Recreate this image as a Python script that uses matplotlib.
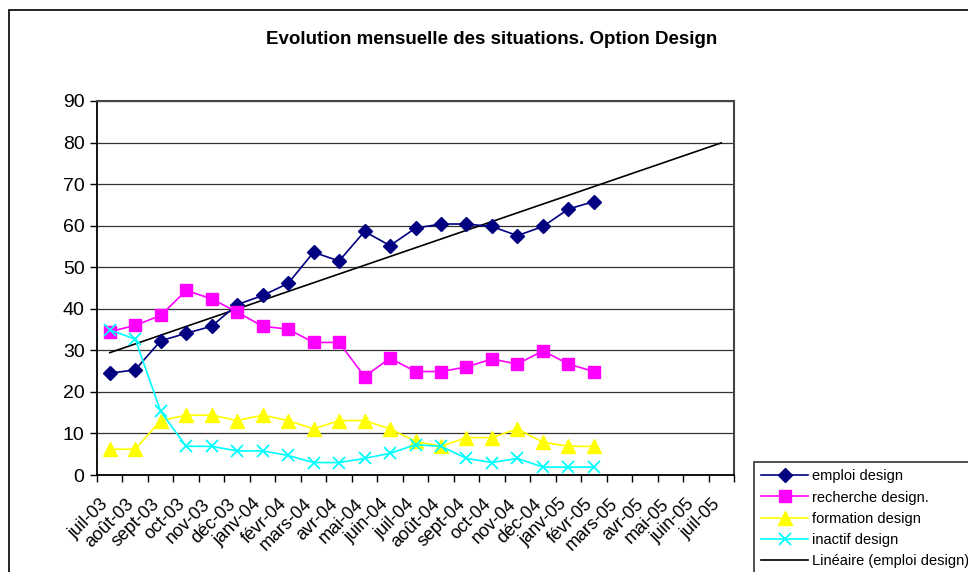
import numpy as np
import matplotlib.pyplot as plt
import matplotlib.transforms as mtransforms
from matplotlib.patches import Rectangle

plt.rcParams['font.family'] = ['Liberation Sans', 'DejaVu Sans']

# -----------------------------
# DONNÉES
# -----------------------------
mois = ["juil-03", "août-03", "sept-03", "oct-03", "nov-03", "déc-03",
        "janv-04", "févr-04", "mars-04", "avr-04", "mai-04", "juin-04",
        "juil-04", "août-04", "sept-04", "oct-04", "nov-04", "déc-04",
        "janv-05", "févr-05", "mars-05", "avr-05", "mai-05", "juin-05",
        "juil-05"]

emploi = [24.5, 25.3, 32.3, 34.1, 35.8, 41.0, 43.2, 46.1, 53.6, 51.5,
          58.6, 55.2, 59.4, 60.4, 60.4, 59.8, 57.6, 59.8, 64.0, 65.8]
recherche = [34.5, 36.0, 38.4, 44.4, 42.4, 39.2, 35.8, 35.1, 31.9, 31.9,
             23.7, 28.1, 24.9, 24.9, 26.0, 27.9, 26.7, 29.9, 26.7, 24.9]
formation = [6.2, 6.2, 13.1, 14.4, 14.4, 13.1, 14.4, 13.1, 11.1, 13.1,
             13.1, 11.1, 8.1, 6.9, 9.0, 9.0, 11.1, 7.9, 6.9, 6.9]
inactif = [34.9, 32.7, 15.3, 6.9, 6.9, 5.8, 5.8, 4.7, 3.0, 3.0,
           4.0, 5.2, 7.3, 6.9, 4.0, 3.0, 4.0, 1.9, 1.9, 1.9]

# -----------------------------
# TENDANCE LINÉAIRE (emploi)
# -----------------------------
x_data = np.arange(len(emploi))
pente, origine = np.polyfit(x_data, emploi, 1)
x_tend = np.arange(len(mois))
y_tend = pente * x_tend + origine

# -----------------------------
# GRAPHIQUE
# -----------------------------
fig = plt.figure(figsize=(9.68, 5.72), dpi=100)
ax = fig.add_axes([97 / 968, 1 - 475 / 572, (734 - 97) / 968, (475 - 101) / 572])

# cadre extérieur
fig.patches.append(Rectangle((9 / 968, 1 - 600 / 572), 1.2, (600 - 10) / 572,
                             transform=fig.transFigure, fill=False,
                             edgecolor='black', lw=1.2))

ax.plot(x_data, emploi, color='#000080', marker='D', markersize=7,
        lw=1.2, label='emploi design', zorder=4)
ax.plot(x_data, recherche, color='#FF00FF', marker='s', markersize=9,
        lw=1.2, label='recherche design.', zorder=4)
ax.plot(x_data, formation, color='#FFFF00', marker='^', markersize=10,
        lw=1.2, label='formation design', zorder=4)
ax.plot(x_data, inactif, color='#00FFFF', marker='x', markersize=9,
        mew=1.3, lw=1.2, label='inactif design', zorder=4)
ax.plot(x_tend, y_tend, color='black', lw=1.2,
        label='Linéaire (emploi design)', zorder=3)

ax.set_xlim(-0.5, len(mois) - 0.5)
ax.set_ylim(0, 90)
ax.set_yticks(range(0, 91, 10))
ax.yaxis.grid(True, color='#333333', lw=0.9)
ax.set_axisbelow(True)

ax.set_xticks(np.arange(-0.5, len(mois), 1))
ax.set_xticklabels([])
ax.set_xticks(np.arange(len(mois)), minor=True)
ax.set_xticklabels(mois, minor=True, rotation=45, ha='right', va='top',
                   rotation_mode='anchor', fontsize=13)
ax.tick_params(axis='x', which='minor', length=0, pad=9)
ax.tick_params(axis='x', which='major', length=5, width=1, direction='out')
ax.tick_params(axis='y', length=5, width=1, labelsize=14, pad=4)

# décalage des étiquettes vers le bas à gauche
decal = mtransforms.ScaledTranslation(-0.10, -0.08, fig.dpi_scale_trans)
for lab in ax.xaxis.get_minorticklabels():
    lab.set_transform(lab.get_transform() + decal)

for s in ['left', 'bottom']:
    ax.spines[s].set_color('black')
    ax.spines[s].set_linewidth(1.3)
for s in ['top', 'right']:
    ax.spines[s].set_color('#444444')
    ax.spines[s].set_linewidth(1.5)

fig.text(492 / 968, 1 - 40 / 572, "Evolution mensuelle des situations. Option Design",
         ha='center', va='center', fontsize=13.5, fontweight='bold')

leg = fig.legend(loc='upper left', bbox_to_anchor=(754 / 968, 1 - 462 / 572),
                 frameon=True, fancybox=False, edgecolor='black', fontsize=10.5,
                 handlelength=3.2, labelspacing=0.5, borderpad=0.5,
                 handletextpad=0.25, borderaxespad=0)
leg.get_frame().set_linewidth(1.2)

fig.savefig('out.png', dpi=100)
